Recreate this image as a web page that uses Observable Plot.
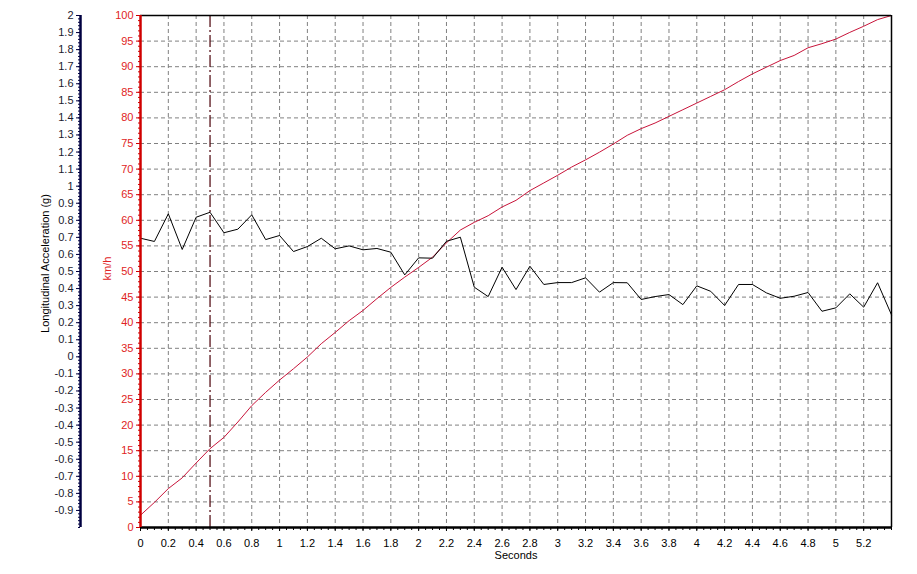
<!DOCTYPE html>
<html><head><meta charset="utf-8">
<script src="https://cdn.jsdelivr.net/npm/d3@7"></script>
<script src="https://cdn.jsdelivr.net/npm/@observablehq/plot@0.6"></script>
<style>body{margin:0;background:#fff}</style>
</head><body><div id="chart"></div>
<script>
const seconds = [0,0.1,0.2,0.3,0.4,0.5,0.6,0.7,0.8,0.9,1.0,1.1,1.2,1.3,1.4,1.5,1.6,1.7,1.8,1.9,2.0,2.1,2.2,2.3,2.4,2.5,2.6,2.7,2.8,2.9,3.0,3.1,3.2,3.3,3.4,3.5,3.6,3.7,3.8,3.9,4.0,4.1,4.2,4.3,4.4,4.5,4.6,4.7,4.8,4.9,5.0,5.1,5.2,5.3,5.4];
const accelG = [0.695,0.676,0.838,0.629,0.818,0.847,0.727,0.748,0.832,0.687,0.711,0.617,0.646,0.695,0.633,0.650,0.627,0.635,0.613,0.480,0.580,0.578,0.677,0.701,0.408,0.353,0.525,0.394,0.531,0.424,0.435,0.435,0.463,0.379,0.435,0.434,0.336,0.353,0.365,0.306,0.416,0.384,0.301,0.424,0.424,0.375,0.343,0.355,0.377,0.267,0.287,0.369,0.291,0.434,0.246];
const speedKmh = [2.4,4.9,7.6,9.7,12.6,15.4,17.6,20.6,23.8,26.4,28.8,31.0,33.3,35.9,38.1,40.4,42.4,44.7,46.9,48.9,50.8,52.8,55.6,58.1,59.6,60.9,62.6,63.9,65.8,67.3,68.8,70.4,71.8,73.3,74.9,76.6,77.9,79.0,80.3,81.6,82.9,84.2,85.5,87.1,88.6,89.9,91.2,92.2,93.7,94.5,95.4,96.7,97.9,99.2,100];
const xTicks = [0,0.2,0.4,0.6,0.8,1,1.2,1.4,1.6,1.8,2,2.2,2.4,2.6,2.8,3,3.2,3.4,3.6,3.8,4,4.2,4.4,4.6,4.8,5,5.2];
const speedTicks = [0,5,10,15,20,25,30,35,40,45,50,55,60,65,70,75,80,85,90,95,100];
const accelTicks = [2,1.9,1.8,1.7,1.6,1.5,1.4,1.3,1.2,1.1,1,0.9,0.8,0.7,0.6,0.5,0.4,0.3,0.2,0.1,0,-0.1,-0.2,-0.3,-0.4,-0.5,-0.6,-0.7,-0.8,-0.9];
const markerTime = [0.5];
const xMax = 5.4, accelMin = -1, accelMax = 2;

const data = seconds.map((t, i) => ({t, g: accelG[i], v: speedKmh[i]}));
const gToKmh = g => (g - accelMin) * 100 / (accelMax - accelMin);
const fmt = d => String(Math.round(d * 10) / 10);
const xMinor = d3.range(0, xMax + 1e-9, 0.05);
const speedMinor = d3.range(0, 100.5, 1);
const accelMinor = d3.range(accelMin, accelMax + 1e-9, 0.02).map(gToKmh);
const navy = "#000040", red = "#d00000", redText = "#e02424";

const chart = Plot.plot({
  width: 917, height: 574,
  marginLeft: 140, marginRight: 26, marginTop: 15, marginBottom: 47,
  style: {fontFamily: "'Liberation Sans', Arial, sans-serif", fontSize: "11px", background: "#fff", overflow: "visible"},
  x: {domain: [0, xMax], axis: null, label: null},
  y: {domain: [0, 100], axis: null, label: null},
  marks: [
    Plot.gridX(xTicks, {stroke: "#808080", strokeOpacity: 1, strokeDasharray: "4,3"}),
    Plot.gridY(speedTicks, {stroke: "#808080", strokeOpacity: 1, strokeDasharray: "4,3"}),
    Plot.ruleX(markerTime, {stroke: "#4a0008", strokeDasharray: "12,3,2,3", strokeWidth: 1.2}),
    Plot.line(data, {x: "t", y: "v", stroke: "#c8143a", strokeWidth: 1}),
    Plot.line(data, {x: "t", y: d => gToKmh(d.g), stroke: "#000", strokeWidth: 1}),
    Plot.ruleY([100], {stroke: "#000", strokeWidth: 1.5}),
    Plot.ruleX([xMax], {stroke: "#000", strokeWidth: 1.5}),
    Plot.axisX(xMinor, {anchor: "bottom", label: null, tickSize: 3, text: null, stroke: "#000"}),
    Plot.axisX(xTicks, {anchor: "bottom", label: null, tickSize: 4, tickPadding: 8, tickFormat: fmt, stroke: "#000", fill: "#000"}),
    Plot.ruleY([0], {stroke: "#000", strokeWidth: 2.5}),
    Plot.axisY(speedMinor, {anchor: "left", label: null, tickSize: 2, text: null, stroke: red}),
    Plot.axisY(speedTicks, {anchor: "left", label: null, tickSize: 4, tickPadding: 3, tickFormat: fmt, stroke: red, fill: redText}),
    Plot.ruleX([0], {stroke: red, strokeWidth: 2.5}),
    Plot.axisY(accelMinor, {anchor: "left", label: null, dx: -60, tickSize: 2, text: null, stroke: navy}),
    Plot.axisY(accelTicks.map(gToKmh), {anchor: "left", label: null, dx: -60, tickSize: 4, tickPadding: 3, tickFormat: d => fmt(d * (accelMax - accelMin) / 100 + accelMin), stroke: navy, fill: "#1a1a2e"}),
    Plot.ruleX([0], {dx: -60, stroke: navy, strokeWidth: 2.5}),
    Plot.text(["Longitudinal Acceleration (g)"], {frameAnchor: "left", textAnchor: "middle", dx: -95, dy: -8, rotate: -90, fill: "#000"}),
    Plot.text(["km/h"], {frameAnchor: "left", textAnchor: "middle", dx: -33, dy: -3, rotate: -90, fill: redText}),
    Plot.text(["Seconds"], {frameAnchor: "bottom", dy: 31, fill: "#000"})
  ]
});
document.getElementById("chart").appendChild(chart);
</script>
</body></html>
